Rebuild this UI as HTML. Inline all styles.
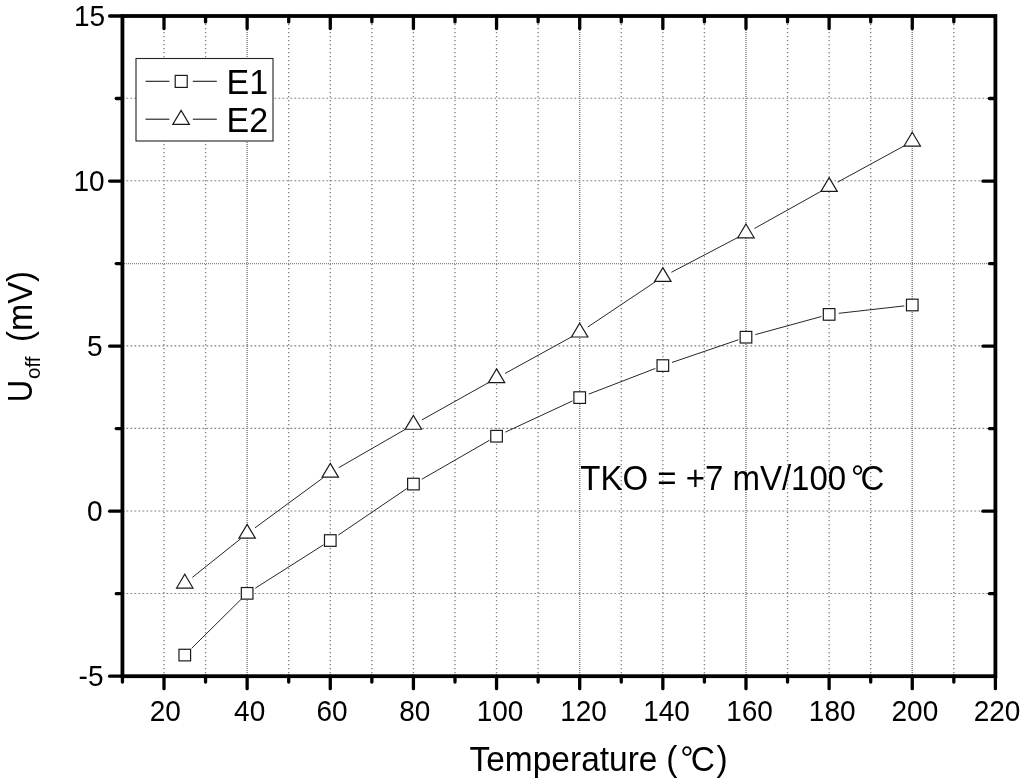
<!DOCTYPE html>
<html lang="en"><head><meta charset="utf-8"><title>Offset voltage vs temperature</title>
<style>html,body{margin:0;padding:0;background:#fff;}body{width:1024px;height:781px;overflow:hidden;}svg{display:block;}</style>
</head><body>
<svg width="1024" height="781" viewBox="0 0 1024 781">
<rect x="0" y="0" width="1024" height="781" fill="#fff"/>
<g stroke="#808080" stroke-width="1.35" stroke-dasharray="1.2 2.8" fill="none">
<line x1="164.00" y1="16.00" x2="164.00" y2="676.20"/>
<line x1="205.57" y1="16.00" x2="205.57" y2="676.20"/>
<line x1="247.14" y1="16.00" x2="247.14" y2="676.20" stroke-dasharray="1.1 0.9" stroke-width="1.5"/>
<line x1="288.71" y1="16.00" x2="288.71" y2="676.20"/>
<line x1="330.28" y1="16.00" x2="330.28" y2="676.20"/>
<line x1="371.85" y1="16.00" x2="371.85" y2="676.20"/>
<line x1="413.42" y1="16.00" x2="413.42" y2="676.20"/>
<line x1="454.99" y1="16.00" x2="454.99" y2="676.20"/>
<line x1="496.56" y1="16.00" x2="496.56" y2="676.20"/>
<line x1="538.13" y1="16.00" x2="538.13" y2="676.20"/>
<line x1="579.70" y1="16.00" x2="579.70" y2="676.20" stroke-dasharray="1.1 0.9" stroke-width="1.5"/>
<line x1="621.27" y1="16.00" x2="621.27" y2="676.20"/>
<line x1="662.84" y1="16.00" x2="662.84" y2="676.20"/>
<line x1="704.41" y1="16.00" x2="704.41" y2="676.20"/>
<line x1="745.98" y1="16.00" x2="745.98" y2="676.20" stroke-dasharray="1.1 0.9" stroke-width="1.5"/>
<line x1="787.55" y1="16.00" x2="787.55" y2="676.20"/>
<line x1="829.12" y1="16.00" x2="829.12" y2="676.20"/>
<line x1="870.69" y1="16.00" x2="870.69" y2="676.20"/>
<line x1="912.26" y1="16.00" x2="912.26" y2="676.20" stroke-dasharray="1.1 0.9" stroke-width="1.5"/>
<line x1="953.83" y1="16.00" x2="953.83" y2="676.20"/>
</g>
<g stroke="#808080" stroke-width="1.05" stroke-dasharray="1.8 2.2" fill="none">
<line x1="122.43" y1="593.42" x2="995.40" y2="593.42"/>
<line x1="122.43" y1="510.90" x2="995.40" y2="510.90"/>
<line x1="122.43" y1="428.38" x2="995.40" y2="428.38"/>
<line x1="122.43" y1="345.85" x2="995.40" y2="345.85"/>
<line x1="122" y1="263.60" x2="995.40" y2="263.60" stroke-dasharray="1 1" stroke-width="1.25"/>
<line x1="122.43" y1="180.80" x2="995.40" y2="180.80"/>
<line x1="122.43" y1="98.27" x2="995.40" y2="98.27"/>
</g>
<g stroke="#1a1a1a" stroke-width="0.95" fill="none">
<line x1="191.68" y1="648.25" x2="241.45" y2="598.97"/>
<line x1="255.33" y1="588.14" x2="323.53" y2="544.82"/>
<line x1="338.31" y1="535.08" x2="406.80" y2="488.58"/>
<line x1="421.83" y1="479.24" x2="489.63" y2="440.21"/>
<line x1="505.36" y1="432.13" x2="572.44" y2="400.97"/>
<line x1="588.75" y1="394.11" x2="655.37" y2="368.45"/>
<line x1="672.02" y1="362.44" x2="738.41" y2="339.77"/>
<line x1="755.34" y1="334.62" x2="821.40" y2="316.52"/>
<line x1="838.76" y1="313.32" x2="904.31" y2="305.90"/>
<line x1="192.36" y1="577.39" x2="240.89" y2="538.59"/>
<line x1="254.96" y1="527.85" x2="323.83" y2="477.26"/>
<line x1="338.69" y1="467.69" x2="406.49" y2="428.66"/>
<line x1="421.88" y1="419.93" x2="489.58" y2="382.03"/>
<line x1="505.06" y1="373.45" x2="572.69" y2="336.26"/>
<line x1="587.76" y1="327.01" x2="656.19" y2="281.23"/>
<line x1="671.43" y1="272.28" x2="738.89" y2="236.92"/>
<line x1="754.45" y1="228.48" x2="822.13" y2="190.69"/>
<line x1="837.64" y1="182.15" x2="905.24" y2="145.27"/>
</g>
<g stroke="#1a1a1a" stroke-width="1.2" fill="#fff">
<rect x="178.98" y="649.27" width="11.6" height="11.6"/>
<rect x="241.34" y="587.54" width="11.6" height="11.6"/>
<rect x="324.48" y="534.73" width="11.6" height="11.6"/>
<rect x="407.62" y="478.28" width="11.6" height="11.6"/>
<rect x="490.76" y="430.42" width="11.6" height="11.6"/>
<rect x="573.90" y="391.80" width="11.6" height="11.6"/>
<rect x="657.04" y="359.78" width="11.6" height="11.6"/>
<rect x="740.18" y="331.39" width="11.6" height="11.6"/>
<rect x="823.32" y="308.61" width="11.6" height="11.6"/>
<rect x="906.46" y="299.20" width="11.6" height="11.6"/>
<polygon points="184.78,574.24 192.98,588.04 176.59,588.04"/>
<polygon points="247.14,524.40 255.34,538.20 238.94,538.20"/>
<polygon points="330.28,463.33 338.48,477.13 322.08,477.13"/>
<polygon points="413.42,415.46 421.62,429.26 405.22,429.26"/>
<polygon points="496.56,368.92 504.76,382.72 488.36,382.72"/>
<polygon points="579.70,323.20 587.90,337.00 571.50,337.00"/>
<polygon points="662.84,267.58 671.04,281.38 654.64,281.38"/>
<polygon points="745.98,224.01 754.18,237.81 737.78,237.81"/>
<polygon points="829.12,177.59 837.32,191.39 820.92,191.39"/>
<polygon points="912.26,132.24 920.46,146.04 904.06,146.04"/>
</g>
<rect x="122.43" y="16.00" width="872.97" height="660.20" stroke="#000" fill="none" stroke-width="3.8"/>
<g stroke="#000" stroke-width="3.3" stroke-linecap="round" fill="none">
<line x1="122.43" y1="676.20" x2="122.43" y2="682.10"/>
<line x1="164.00" y1="676.20" x2="164.00" y2="688.70"/>
<line x1="164.00" y1="16.00" x2="164.00" y2="28.50"/>
<line x1="205.57" y1="676.20" x2="205.57" y2="682.10"/>
<line x1="205.57" y1="16.00" x2="205.57" y2="21.90"/>
<line x1="247.14" y1="676.20" x2="247.14" y2="688.70"/>
<line x1="247.14" y1="16.00" x2="247.14" y2="28.50"/>
<line x1="288.71" y1="676.20" x2="288.71" y2="682.10"/>
<line x1="288.71" y1="16.00" x2="288.71" y2="21.90"/>
<line x1="330.28" y1="676.20" x2="330.28" y2="688.70"/>
<line x1="330.28" y1="16.00" x2="330.28" y2="28.50"/>
<line x1="371.85" y1="676.20" x2="371.85" y2="682.10"/>
<line x1="371.85" y1="16.00" x2="371.85" y2="21.90"/>
<line x1="413.42" y1="676.20" x2="413.42" y2="688.70"/>
<line x1="413.42" y1="16.00" x2="413.42" y2="28.50"/>
<line x1="454.99" y1="676.20" x2="454.99" y2="682.10"/>
<line x1="454.99" y1="16.00" x2="454.99" y2="21.90"/>
<line x1="496.56" y1="676.20" x2="496.56" y2="688.70"/>
<line x1="496.56" y1="16.00" x2="496.56" y2="28.50"/>
<line x1="538.13" y1="676.20" x2="538.13" y2="682.10"/>
<line x1="538.13" y1="16.00" x2="538.13" y2="21.90"/>
<line x1="579.70" y1="676.20" x2="579.70" y2="688.70"/>
<line x1="579.70" y1="16.00" x2="579.70" y2="28.50"/>
<line x1="621.27" y1="676.20" x2="621.27" y2="682.10"/>
<line x1="621.27" y1="16.00" x2="621.27" y2="21.90"/>
<line x1="662.84" y1="676.20" x2="662.84" y2="688.70"/>
<line x1="662.84" y1="16.00" x2="662.84" y2="28.50"/>
<line x1="704.41" y1="676.20" x2="704.41" y2="682.10"/>
<line x1="704.41" y1="16.00" x2="704.41" y2="21.90"/>
<line x1="745.98" y1="676.20" x2="745.98" y2="688.70"/>
<line x1="745.98" y1="16.00" x2="745.98" y2="28.50"/>
<line x1="787.55" y1="676.20" x2="787.55" y2="682.10"/>
<line x1="787.55" y1="16.00" x2="787.55" y2="21.90"/>
<line x1="829.12" y1="676.20" x2="829.12" y2="688.70"/>
<line x1="829.12" y1="16.00" x2="829.12" y2="28.50"/>
<line x1="870.69" y1="676.20" x2="870.69" y2="682.10"/>
<line x1="870.69" y1="16.00" x2="870.69" y2="21.90"/>
<line x1="912.26" y1="676.20" x2="912.26" y2="688.70"/>
<line x1="912.26" y1="16.00" x2="912.26" y2="28.50"/>
<line x1="953.83" y1="676.20" x2="953.83" y2="682.10"/>
<line x1="953.83" y1="16.00" x2="953.83" y2="21.90"/>
<line x1="995.40" y1="676.20" x2="995.40" y2="688.70"/>
<line x1="122.43" y1="676.20" x2="109.63" y2="676.20"/>
<line x1="122.43" y1="593.67" x2="116.23" y2="593.67"/>
<line x1="995.40" y1="593.67" x2="989.50" y2="593.67"/>
<line x1="122.43" y1="511.15" x2="109.63" y2="511.15"/>
<line x1="995.40" y1="511.15" x2="982.90" y2="511.15"/>
<line x1="122.43" y1="428.62" x2="116.23" y2="428.62"/>
<line x1="995.40" y1="428.62" x2="989.50" y2="428.62"/>
<line x1="122.43" y1="346.10" x2="109.63" y2="346.10"/>
<line x1="995.40" y1="346.10" x2="982.90" y2="346.10"/>
<line x1="122.43" y1="263.57" x2="116.23" y2="263.57"/>
<line x1="995.40" y1="263.57" x2="989.50" y2="263.57"/>
<line x1="122.43" y1="181.05" x2="109.63" y2="181.05"/>
<line x1="995.40" y1="181.05" x2="982.90" y2="181.05"/>
<line x1="122.43" y1="98.52" x2="116.23" y2="98.52"/>
<line x1="995.40" y1="98.52" x2="989.50" y2="98.52"/>
<line x1="122.43" y1="16.00" x2="109.63" y2="16.00"/>
</g>
<g font-family="'Liberation Sans', sans-serif" fill="#000">
<text transform="translate(165.20,721.10) scale(1.0,1.05)" font-size="28" text-anchor="middle">20</text>
<text transform="translate(249.64,721.10) scale(1.0,1.05)" font-size="28" text-anchor="middle">40</text>
<text transform="translate(332.08,721.10) scale(1.0,1.05)" font-size="28" text-anchor="middle">60</text>
<text transform="translate(414.72,721.10) scale(1.0,1.05)" font-size="28" text-anchor="middle">80</text>
<text transform="translate(500.06,721.10) scale(1.0,1.05)" font-size="28" text-anchor="middle">100</text>
<text transform="translate(583.50,721.10) scale(1.0,1.05)" font-size="28" text-anchor="middle">120</text>
<text transform="translate(666.54,721.10) scale(1.0,1.05)" font-size="28" text-anchor="middle">140</text>
<text transform="translate(749.58,721.10) scale(1.0,1.05)" font-size="28" text-anchor="middle">160</text>
<text transform="translate(832.22,721.10) scale(1.0,1.05)" font-size="28" text-anchor="middle">180</text>
<text transform="translate(914.86,721.10) scale(1.0,1.05)" font-size="28" text-anchor="middle">200</text>
<text transform="translate(997.00,721.10) scale(1.0,1.05)" font-size="28" text-anchor="middle">220</text>
<text transform="translate(103.48,686.30) scale(1.0,1.05)" font-size="28" text-anchor="end">-5</text>
<text transform="translate(102.49,521.25) scale(1.0,1.05)" font-size="28" text-anchor="end">0</text>
<text transform="translate(102.58,356.20) scale(1.0,1.05)" font-size="28" text-anchor="end">5</text>
<text transform="translate(104.59,191.15) scale(1.0,1.05)" font-size="28" text-anchor="end">10</text>
<text transform="translate(105.08,26.10) scale(1.0,1.05)" font-size="28" text-anchor="end">15</text>
<text transform="translate(0,770.5) scale(1,1.046)" font-size="33.5"><tspan x="469.50">Temperature</tspan> <tspan x="666.22">(</tspan><tspan x="680.20">°</tspan><tspan x="690.70">C</tspan><tspan x="716.50">)</tspan></text>
<text transform="translate(0,490) scale(1,1.07)" font-size="33"><tspan x="580.26">TKO = +7 mV/100</tspan><tspan x="851.03">°</tspan><tspan x="860.52">C</tspan></text>
<text transform="translate(32.20,399.80) rotate(-90) scale(0.8730408244825791,1.0)" x="-2.74" font-size="35.5">U</text>
<text transform="translate(40.40,378.10) rotate(-90) scale(0.9779051091722012,1.0)" x="-0.88" font-size="21">off</text>
<text transform="translate(32.40,340.00) rotate(-90) scale(0.9228767150968942,1.0)" x="-2.20" font-size="35.5">(mV)</text>
</g>
<rect x="136" y="58.5" width="137" height="82.5" fill="#fff" stroke="#222" stroke-width="1.1"/>
<g stroke="#1a1a1a" stroke-width="1.1" fill="none">
<line x1="145.5" y1="81.3" x2="169.4" y2="81.3"/><line x1="192.8" y1="81.3" x2="216.8" y2="81.3"/>
<line x1="145.5" y1="119.2" x2="169.4" y2="119.2"/><line x1="192.8" y1="119.2" x2="216.8" y2="119.2"/>
</g>
<g stroke="#1a1a1a" stroke-width="1.2" fill="#fff">
<rect x="175.20" y="75.40" width="12" height="12"/>
<polygon points="181.1,110.4 189.4,124.4 172.8,124.4"/>
</g>
<g font-family="'Liberation Sans', sans-serif" fill="#000">
<text transform="translate(226.46,93.75) scale(1.0,1.05)" font-size="34">E1</text>
<text transform="translate(226.46,131.70) scale(1.0,1.05)" font-size="34">E2</text>
</g>
</svg>
</body></html>
